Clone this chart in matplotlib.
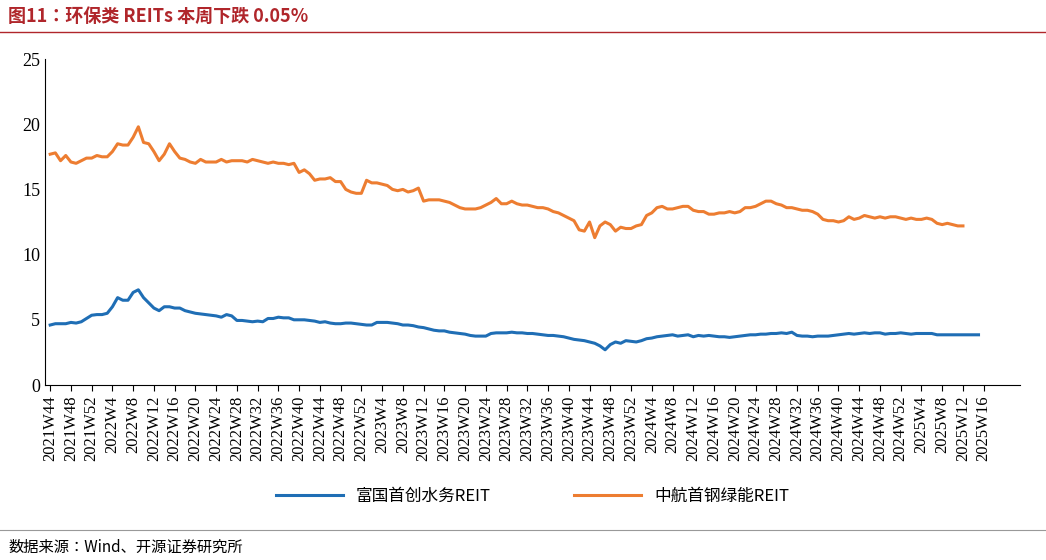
import matplotlib
matplotlib.use("Agg")
import matplotlib.pyplot as plt
from matplotlib import font_manager

orange = [17.7,17.8,17.2,17.6,17.1,17.0,17.2,17.4,17.4,17.6,17.5,17.5,17.9,18.5,18.4,18.4,19.0,19.8,18.6,18.5,17.9,17.2,17.7,18.5,17.9,17.4,17.3,17.1,17.0,17.3,17.1,17.1,17.1,17.3,17.1,17.2,17.2,17.2,17.1,17.3,17.2,17.1,17.0,17.1,17.0,17.0,16.9,17.0,16.3,16.5,16.2,15.7,15.8,15.8,15.9,15.6,15.6,15.0,14.8,14.7,14.7,15.7,15.5,15.5,15.4,15.3,15.0,14.9,15.0,14.8,14.9,15.1,14.1,14.2,14.2,14.2,14.1,14.0,13.8,13.6,13.5,13.5,13.5,13.6,13.8,14.0,14.3,13.9,13.9,14.1,13.9,13.8,13.8,13.7,13.6,13.6,13.5,13.3,13.2,13.0,12.8,12.6,11.9,11.8,12.5,11.3,12.2,12.5,12.3,11.8,12.1,12.0,12.0,12.2,12.3,13.0,13.2,13.6,13.7,13.5,13.5,13.6,13.7,13.7,13.4,13.3,13.3,13.1,13.1,13.2,13.2,13.3,13.2,13.3,13.6,13.6,13.7,13.9,14.1,14.1,13.9,13.8,13.6,13.6,13.5,13.4,13.4,13.3,13.1,12.7,12.6,12.6,12.5,12.6,12.9,12.7,12.8,13.0,12.9,12.8,12.9,12.8,12.9,12.9,12.8,12.7,12.8,12.7,12.7,12.8,12.7,12.4,12.3,12.4,12.3,12.2,12.2]
blue = [4.6,4.7,4.7,4.7,4.8,4.75,4.85,5.1,5.35,5.4,5.4,5.5,6.0,6.7,6.5,6.5,7.1,7.3,6.7,6.3,5.9,5.7,6.0,6.0,5.9,5.9,5.7,5.6,5.5,5.45,5.4,5.35,5.3,5.2,5.4,5.3,4.95,4.95,4.9,4.85,4.9,4.85,5.1,5.1,5.2,5.15,5.15,5.0,5.0,5.0,4.95,4.9,4.8,4.85,4.75,4.7,4.7,4.75,4.75,4.7,4.65,4.6,4.6,4.8,4.8,4.8,4.75,4.7,4.6,4.6,4.55,4.45,4.4,4.3,4.2,4.15,4.15,4.05,4.0,3.95,3.9,3.8,3.75,3.75,3.75,3.95,4.0,4.0,4.0,4.05,4.0,4.0,3.95,3.95,3.9,3.85,3.8,3.8,3.75,3.7,3.6,3.5,3.45,3.4,3.3,3.2,3.0,2.7,3.1,3.3,3.2,3.4,3.35,3.3,3.4,3.55,3.6,3.7,3.75,3.8,3.85,3.75,3.8,3.85,3.7,3.8,3.75,3.8,3.75,3.7,3.7,3.65,3.7,3.75,3.8,3.85,3.85,3.9,3.9,3.95,3.95,4.0,3.95,4.05,3.8,3.75,3.75,3.7,3.75,3.75,3.75,3.8,3.85,3.9,3.95,3.9,3.95,4.0,3.95,4.0,4.0,3.9,3.95,3.95,4.0,3.95,3.9,3.95,3.95,3.95,3.95,3.85,3.85,3.85,3.85,3.85,3.85,3.85,3.85,3.85]
series_names = ["富国首创水务REIT", "中航首钢绿能REIT"]
start_year, start_week, weeks_per_year = 2021, 44, 52
yticks = [0, 5, 10, 15, 20, 25]

n = max(len(orange), len(blue))
labels = []
y, w = start_year, start_week
for i in range(n + 10):
    labels.append(f"{y}W{w}")
    w += 1
    if w > weeks_per_year:
        w = 1; y += 1

avail = {f.name for f in font_manager.fontManager.ttflist}
cjk_list = [f for f in ["Noto Sans CJK SC", "Noto Sans CJK JP", "Noto Sans CJK TC", "Noto Sans CJK KR"] if f in avail]
if not cjk_list:
    cjk_list = [f.name for f in font_manager.fontManager.ttflist if "CJK" in f.name][:1] or ["DejaVu Sans"]
cjk = cjk_list[0]
serif = "Liberation Serif"
fig = plt.figure(figsize=(10.46, 5.6), dpi=100)
ax = fig.add_axes([45/1046, 1-385/560, 975/1046, 326/560])
ax.plot(range(len(blue)), blue, color="#1F6EB5", lw=2.2, label=series_names[0])
ax.plot(range(len(orange)), orange, color="#ED7D31", lw=2.2, label=series_names[1])
ax.set_ylim(0, 25)
ax.set_xlim(-1, 187)
ax.set_yticks(yticks)
ax.set_yticklabels([str(v) for v in yticks], fontfamily=serif, fontsize=13)
tick_idx = list(range(0, 184, 4))
ax.set_xticks(tick_idx)
ax.set_xticklabels([labels[i] for i in tick_idx], rotation=90, fontfamily=serif, fontsize=12)
for s in ["top", "right"]:
    ax.spines[s].set_visible(False)
ax.tick_params(axis="x", length=4, direction="out")
ax.tick_params(axis="y", length=0)
ax.legend(loc="upper center", bbox_to_anchor=(0.5, -0.27), ncol=2, frameon=False,
          prop=font_manager.FontProperties(family=cjk, size=12), handlelength=4, columnspacing=5)

fig.text(8/1046, 1-16/560, "图11：环保类 REITs 本周下跌 0.05%", fontfamily=cjk, fontsize=13,
         fontweight="bold", color="#B0262B", va="center")
fig.add_artist(plt.Line2D([0, 1], [1-32/560, 1-32/560], color="#B0262B", lw=1))
fig.add_artist(plt.Line2D([0, 1], [1-530/560, 1-530/560], color="#999999", lw=0.8))
fig.text(8/1046, 1-547/560, "数据来源：Wind、开源证券研究所", fontfamily=cjk, fontsize=11, va="center")
fig.savefig("out.png", dpi=100)
